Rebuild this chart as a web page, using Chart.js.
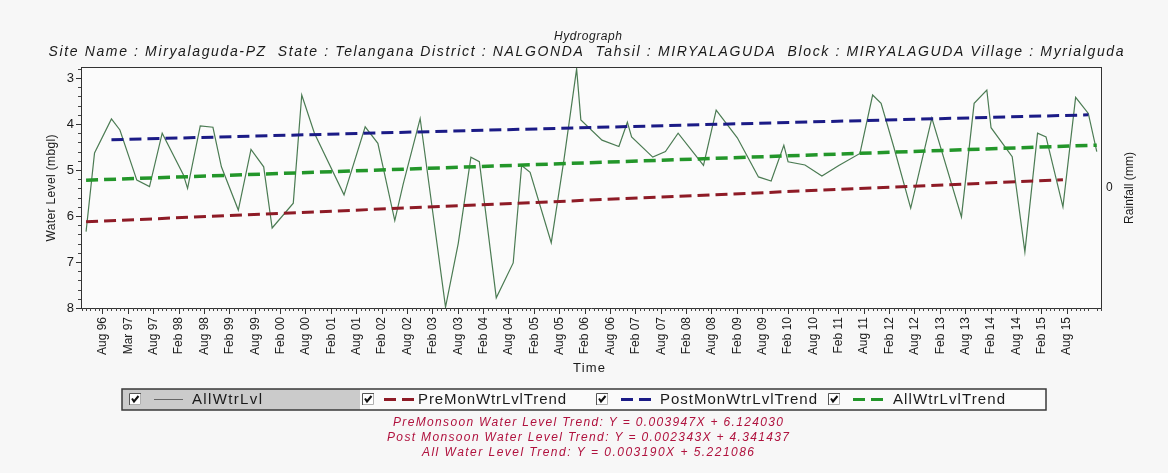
<!DOCTYPE html>
<html>
<head>
<meta charset="utf-8">
<title>Hydrograph</title>
<script src="https://cdn.jsdelivr.net/npm/chart.js@4.4.1/dist/chart.umd.min.js"></script>
<style>
  html, body { margin: 0; padding: 0; background: #f6f6f6; }
  #wrap { width: 1168px; height: 473px; }
</style>
</head>
<body>
<div id="wrap"><canvas id="c" width="1168" height="473"></canvas></div>
<script>
// Observation dates (YYYY-MM) and water level below ground (m)
const obsDates = [
  '1996-04','1996-06','1996-10','1996-12','1997-04','1997-07','1997-10','1998-03','1998-04','1998-07',
  '1998-10','1998-12','1999-04','1999-07','1999-10','1999-12','2000-05','2000-07','2000-10','2001-05',
  '2001-10','2002-01','2002-05','2002-07','2002-11','2003-05','2003-08','2003-11','2004-01','2004-05',
  '2004-09','2004-11','2005-01','2005-06','2005-09','2005-12','2006-01','2006-06','2006-10','2006-12',
  '2007-01','2007-06','2007-09','2007-12','2008-06','2008-09','2009-02','2009-07','2009-10','2010-01',
  '2010-02','2010-06','2010-10','2011-02','2011-07','2011-10','2011-12','2012-03','2012-07','2012-12',
  '2013-07','2013-10','2014-01','2014-02','2014-07','2014-10','2015-01','2015-03','2015-07','2015-10',
  '2016-01','2016-03'
];
const obsLevels = [
  6.34, 4.63, 3.89, 4.13, 5.22, 5.36, 4.20, 5.10, 5.40, 4.04,
  4.07, 4.93, 5.87, 4.55, 4.93, 6.26, 5.72, 3.37, 4.20, 5.54,
  4.06, 4.42, 6.10, 5.30, 3.88, 7.98, 6.60, 4.72, 4.82, 7.78,
  7.02, 4.90, 5.05, 6.58, 4.78, 2.80, 3.91, 4.35, 4.49, 3.96,
  4.28, 4.72, 4.60, 4.20, 4.90, 3.70, 4.30, 5.15, 5.24, 4.46,
  4.82, 4.89, 5.13, 4.90, 4.64, 3.37, 3.55, 4.50, 5.83, 3.87,
  6.02, 3.55, 3.26, 4.08, 4.71, 6.78, 4.20, 4.28, 5.80, 3.42,
  3.77, 4.60
];

// Half-yearly time axis labels
const tickLabels = [
  'Aug 96','Mar 97','Aug 97','Feb 98','Aug 98','Feb 99','Aug 99','Feb 00','Aug 00','Feb 01',
  'Aug 01','Feb 02','Aug 02','Feb 03','Aug 03','Feb 04','Aug 04','Feb 05','Aug 05','Feb 06',
  'Aug 06','Feb 07','Aug 07','Feb 08','Aug 08','Feb 09','Aug 09','Feb 10','Aug 10','Feb 11',
  'Aug 11','Feb 12','Aug 12','Feb 13','Aug 13','Feb 14','Aug 14','Feb 15','Aug 15'
];
const firstTickDate = '1996-08';
const yTicks = [3, 4, 5, 6, 7, 8];
const rainTicks = [0];

// Fitted trends: Y = slope * X + intercept, X in months from the trend start
const trendNames = ['PreMonsoon Water Level Trend', 'Post Monsoon Water Level Trend', 'All Water Level Trend'];
const trendSlopes = [0.003947, 0.002343, 0.003190];
const trendIntercepts = [6.124030, 4.341437, 5.221086];
const trendStarts = ['1996-04', '1996-10', '1996-04'];
const trendEnds = ['2015-07', '2016-01', '2016-03'];

const legendLabels = ['AllWtrLvl', 'PreMonWtrLvlTrend', 'PostMonWtrLvlTrend', 'AllWtrLvlTrend'];
const titleText = 'Hydrograph';
const subtitleText = 'Site Name : Miryalaguda-PZ  State : Telangana District : NALGONDA  Tahsil : MIRYALAGUDA  Block : MIRYALAGUDA Village : Myrialguda';

const FONT = 'Arial, "Liberation Sans", sans-serif';
const LINE_COLOR = '#4b7b53';
const TREND_COLORS = ['#8e1b26', '#1b1b86', '#23962a'];

function monthIndex(s) {
  const [y, m] = s.split('-').map(Number);
  return (y - 1996) * 12 + (m - 1);
}

const firstTick = monthIndex(firstTickDate);

function trendPoints(k) {
  const a = monthIndex(trendStarts[k]);
  const b = monthIndex(trendEnds[k]);
  // depth axis is reversed, so the fitted change is drawn as a shallowing level
  return [a, b].map(m => ({ x: m, y: trendIntercepts[k] - trendSlopes[k] * (m - a) }));
}

function trendLabel(k) {
  return trendNames[k] + ': Y = ' + trendSlopes[k].toFixed(6) + 'X + ' + trendIntercepts[k].toFixed(6);
}

// Draws text, spreading letters slightly so it spans a given width
function spacedText(ctx, text, x, y, width, align) {
  ctx.letterSpacing = '0px';
  ctx.textAlign = 'left';
  const w = ctx.measureText(text).width;
  const n = Array.from(text).length;
  const x0 = align === 'center' ? x - width / 2 : x;
  if ('letterSpacing' in ctx) {
    const sp = (width - w) / Math.max(n - 1, 1);
    ctx.letterSpacing = sp.toFixed(3) + 'px';
    ctx.fillText(text, x0, y);
    ctx.letterSpacing = '0px';
  } else {
    ctx.save();
    ctx.translate(x0, y);
    ctx.scale(width / w, 1);
    ctx.fillText(text, 0, 0);
    ctx.restore();
  }
}

function drawCheckbox(ctx, x, y) {
  ctx.fillStyle = '#ffffff';
  ctx.fillRect(x, y, 12, 12);
  ctx.lineWidth = 1;
  ctx.strokeStyle = '#555';
  ctx.beginPath();
  ctx.moveTo(x + 0.5, y + 12); ctx.lineTo(x + 0.5, y + 0.5); ctx.lineTo(x + 12, y + 0.5);
  ctx.stroke();
  ctx.strokeStyle = '#b0b0b0';
  ctx.beginPath();
  ctx.moveTo(x + 11.5, y + 1); ctx.lineTo(x + 11.5, y + 11.5); ctx.lineTo(x + 1, y + 11.5);
  ctx.stroke();
  ctx.strokeStyle = '#111';
  ctx.lineWidth = 2;
  ctx.beginPath();
  ctx.moveTo(x + 3, y + 5.5); ctx.lineTo(x + 5, y + 8.5); ctx.lineTo(x + 9.5, y + 3);
  ctx.stroke();
}

const decor = {
  id: 'decor',
  beforeDraw(chart) {
    const { ctx, chartArea: a } = chart;
    ctx.save();
    ctx.fillStyle = '#f7f7f7';
    ctx.fillRect(0, 0, chart.width, chart.height);
    ctx.fillStyle = '#fbfbfb';
    ctx.fillRect(a.left, a.top, a.right - a.left, a.bottom - a.top);
    ctx.restore();
  },
  afterDraw(chart) {
    const { ctx, chartArea: a, scales } = chart;
    const xs = scales.x, ys = scales.y;
    ctx.save();

    // frame top edge
    ctx.strokeStyle = '#333';
    ctx.lineWidth = 1;
    ctx.beginPath();
    ctx.moveTo(a.left, a.top + 0.5);
    ctx.lineTo(a.right, a.top + 0.5);
    ctx.stroke();

    // monthly minor ticks on the time axis
    ctx.strokeStyle = '#444';
    ctx.beginPath();
    for (let m = Math.ceil(xs.min); m <= Math.floor(xs.max); m++) {
      if ((m - firstTick) % 6 === 0) continue;
      const px = Math.round(xs.getPixelForValue(m)) + 0.5;
      ctx.moveTo(px, a.bottom);
      ctx.lineTo(px, a.bottom + 3);
    }
    // minor ticks on the depth axis
    for (let v = 2.8; v < 8; v += 0.2) {
      if (Math.abs(v - Math.round(v)) < 0.01) continue;
      const py = Math.round(ys.getPixelForValue(v)) + 0.5;
      ctx.moveTo(a.left, py);
      ctx.lineTo(a.left - 3, py);
    }
    ctx.stroke();

    ctx.textBaseline = 'middle';
    ctx.fillStyle = '#1a1a1a';

    // titles
    ctx.font = 'italic 12px ' + FONT;
    spacedText(ctx, titleText, 588, 37, 68, 'center');
    ctx.font = 'italic 14px ' + FONT;
    spacedText(ctx, subtitleText, 586, 52, 1075, 'center');

    // axis titles
    ctx.font = '13px ' + FONT;
    spacedText(ctx, 'Time', 589, 368, 32, 'center');
    ctx.font = '12px ' + FONT;
    ctx.save();
    ctx.translate(52, 188);
    ctx.rotate(-Math.PI / 2);
    spacedText(ctx, 'Water Level (mbgl)', 0, 0, 107, 'center');
    ctx.restore();
    ctx.save();
    ctx.translate(1130, 188);
    ctx.rotate(-Math.PI / 2);
    spacedText(ctx, 'Rainfall (mm)', 0, 0, 72, 'center');
    ctx.restore();

    // legend box
    const lx0 = 122, lx1 = 1046, ly0 = 389, ly1 = 410, ly = 399.5;
    ctx.fillStyle = '#fafafa';
    ctx.fillRect(lx0, ly0, lx1 - lx0, ly1 - ly0);
    ctx.fillStyle = '#cbcbcb';
    ctx.fillRect(lx0, ly0, 360 - lx0, ly1 - ly0);
    ctx.strokeStyle = '#3a3a3a';
    ctx.lineWidth = 1.5;
    ctx.strokeRect(lx0, ly0, lx1 - lx0, ly1 - ly0);

    const boxX = [129, 362, 596, 828];
    const markX = [154, 384, 621, 853];
    const textX = [192, 418, 660, 893];
    const textW = [70, 148, 157, 112];
    for (let i = 0; i < 4; i++) {
      drawCheckbox(ctx, boxX[i], 393);
      if (i === 0) {
        ctx.strokeStyle = '#666';
        ctx.lineWidth = 1;
        ctx.setLineDash([]);
        ctx.beginPath();
        ctx.moveTo(markX[i], ly);
        ctx.lineTo(markX[i] + 29, ly);
        ctx.stroke();
      } else {
        ctx.strokeStyle = TREND_COLORS[i - 1];
        ctx.lineWidth = 3;
        ctx.setLineDash([12, 6]);
        ctx.beginPath();
        ctx.moveTo(markX[i], ly);
        ctx.lineTo(markX[i] + 30, ly);
        ctx.stroke();
        ctx.setLineDash([]);
      }
      ctx.fillStyle = '#1a1a1a';
      ctx.font = '15px ' + FONT;
      spacedText(ctx, legendLabels[i], textX[i], ly + 0.5, textW[i], 'left');
    }

    // trend equations
    ctx.fillStyle = '#b0123e';
    ctx.font = 'italic 12px ' + FONT;
    const eqY = [423, 438, 453];
    const eqW = [390, 402, 332];
    for (let k = 0; k < 3; k++) {
      spacedText(ctx, trendLabel(k), 588, eqY[k], eqW[k], 'center');
    }
    ctx.restore();
  }
};

const lineData = obsDates.map((d, i) => ({ x: monthIndex(d), y: obsLevels[i] }));

new Chart(document.getElementById('c'), {
  type: 'line',
  data: {
    datasets: [
      { label: legendLabels[0], data: lineData, borderColor: LINE_COLOR, borderWidth: 1.2,
        pointRadius: 0, tension: 0, fill: false, order: 1 },
      { label: legendLabels[1], data: trendPoints(0), borderColor: TREND_COLORS[0], borderWidth: 3,
        borderDash: [12, 6], pointRadius: 0, fill: false, order: 0 },
      { label: legendLabels[2], data: trendPoints(1), borderColor: TREND_COLORS[1], borderWidth: 3,
        borderDash: [12, 6], pointRadius: 0, fill: false, order: 0 },
      { label: legendLabels[3], data: trendPoints(2), borderColor: TREND_COLORS[2], borderWidth: 3.5,
        borderDash: [12, 6], pointRadius: 0, fill: false, order: 0 }
    ]
  },
  options: {
    responsive: false,
    devicePixelRatio: 1,
    animation: false,
    events: [],
    layout: { padding: { top: 67, left: 0, right: 0, bottom: 90 } },
    plugins: { legend: { display: false }, tooltip: { enabled: false }, title: { display: false } },
    scales: {
      x: {
        type: 'linear', position: 'bottom', min: 1.8, max: 243,
        afterBuildTicks: s => { s.ticks = tickLabels.map((t, i) => ({ value: firstTick + i * 6 })); },
        ticks: {
          autoSkip: false, minRotation: 90, maxRotation: 90, padding: 3,
          color: '#1a1a1a', font: { family: FONT, size: 12 },
          callback: (v, i) => tickLabels[i]
        },
        grid: { drawOnChartArea: false, tickLength: 6, color: '#333' },
        border: { display: true, color: '#333', width: 1 },
        afterFit: s => { s.height = 75; }
      },
      y: {
        type: 'linear', position: 'left', reverse: true, min: 2.76, max: 8,
        afterBuildTicks: s => { s.ticks = yTicks.map(v => ({ value: v })); },
        ticks: { padding: 2, color: '#1a1a1a', font: { family: FONT, size: 13 } },
        grid: { drawOnChartArea: false, tickLength: 5, color: '#333' },
        border: { display: true, color: '#333', width: 1 },
        afterFit: s => { s.width = 81; }
      },
      y2: {
        type: 'linear', position: 'right', min: -1, max: 1,
        afterBuildTicks: s => { s.ticks = rainTicks.map(v => ({ value: v })); },
        ticks: { padding: 5, color: '#1a1a1a', font: { family: FONT, size: 12 } },
        grid: { drawOnChartArea: false, drawTicks: false, color: '#333' },
        border: { display: true, color: '#333', width: 1 },
        afterFit: s => { s.width = 67; }
      }
    }
  },
  plugins: [decor]
});
</script>
</body>
</html>
